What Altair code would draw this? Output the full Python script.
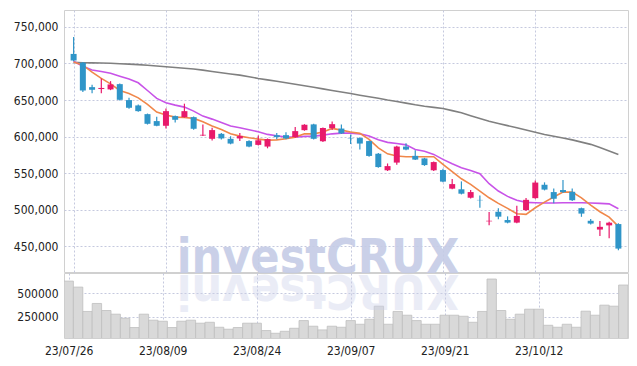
import altair as alt
import pandas as pd

dates = ["23/07/26", "23/07/27", "23/07/28", "23/07/31", "23/08/01", "23/08/02", "23/08/03", "23/08/04",
         "23/08/07", "23/08/08", "23/08/09", "23/08/10", "23/08/11", "23/08/14", "23/08/16", "23/08/17",
         "23/08/18", "23/08/21", "23/08/22", "23/08/23", "23/08/24", "23/08/25", "23/08/28", "23/08/29",
         "23/08/30", "23/08/31", "23/09/01", "23/09/04", "23/09/05", "23/09/06", "23/09/07", "23/09/08",
         "23/09/11", "23/09/12", "23/09/13", "23/09/14", "23/09/15", "23/09/18", "23/09/19", "23/09/20",
         "23/09/21", "23/09/22", "23/09/25", "23/09/26", "23/09/27", "23/10/04", "23/10/05", "23/10/06",
         "23/10/10", "23/10/11", "23/10/12", "23/10/13", "23/10/16", "23/10/17", "23/10/18", "23/10/19",
         "23/10/20", "23/10/23", "23/10/24", "23/10/25"]

opens = [713000, 701000, 667600, 665000, 664500, 671700, 649900, 642600, 630700, 621200,
         614800, 628000, 626600, 626600, 601500, 597000, 603800, 597000, 597500, 593900,
         588700, 586400, 602000, 602000, 599300, 608800, 616700, 593800, 611600, 611000,
         597500, 598000, 593900, 576600, 554000, 564500, 586400, 573700, 570200, 554000,
         554300, 528900, 528000, 516500, 513500, 484200, 497300, 486000, 482500, 499500,
         515900, 534200, 524200, 527000, 524600, 502200, 485000, 473000, 478700, 480500]
closes = [704000, 663000, 664000, 666500, 671300, 650300, 639400, 634800, 617500, 614800,
          634800, 623000, 634800, 610700, 602500, 608900, 597500, 590500, 600700, 586400,
          595000, 596600, 599300, 597500, 607500, 616200, 597000, 611600, 617000, 604400,
          597000, 590500, 573600, 558400, 559700, 586400, 582300, 568600, 561100, 565200,
          538500, 535100, 522000, 524200, 513000, 485000, 490600, 482500, 491600, 513600,
          537200, 527600, 515100, 524200, 513100, 494800, 481200, 476700, 482400, 447000]
highs = [736000, 702000, 671000, 679500, 675800, 672500, 653000, 644000, 631500, 627000,
         638500, 629000, 645000, 627500, 616700, 612000, 605000, 600500, 604800, 595000,
         601600, 597500, 605000, 606000, 613000, 617000, 617500, 612500, 620800, 616700,
         603000, 599000, 594500, 577500, 563300, 587500, 591000, 581500, 571000, 566000,
         556000, 542000, 538800, 527000, 519700, 496900, 502000, 491000, 505500, 516000,
         540000, 537500, 529000, 540600, 529000, 503000, 487500, 484600, 483500, 481500]
lows = [703000, 661000, 659400, 659400, 663500, 649500, 638000, 633900, 616500, 614000,
        611200, 619400, 626000, 609500, 601000, 594800, 596000, 589500, 593900, 585500,
        588000, 584000, 596500, 596500, 598500, 608000, 596000, 592500, 609000, 603500,
        590000, 582500, 572500, 557500, 553000, 561500, 581500, 568000, 560000, 553000,
        537500, 528000, 521000, 515500, 502800, 479000, 487000, 481500, 481500, 498500,
        515000, 526500, 509000, 523000, 512000, 490400, 480000, 464200, 461000, 444700]
volumes = [631000, 567000, 308000, 393000, 318000, 279000, 236000, 137000, 279000, 215000,
           204000, 137000, 204000, 215000, 183000, 193000, 140000, 119000, 137000, 183000,
           183000, 105000, 76000, 97000, 129000, 211000, 151000, 112000, 151000, 140000,
           211000, 172000, 225000, 364000, 172000, 308000, 268000, 211000, 172000, 172000,
           268000, 268000, 257000, 193000, 308000, 653000, 318000, 225000, 279000, 332000,
           332000, 161000, 140000, 172000, 140000, 311000, 268000, 375000, 364000, 589000]
ma_short = [701800, 697700, 688000, 679500, 672000, 663000, 659000, 653000, 644000, 633500,
            629400, 626600, 626200, 624900, 620200, 614400, 609800, 603800, 600700, 598400,
            596600, 595200, 595600, 597000, 599300, 603800, 603800, 606200, 611200, 608900,
            606200, 604400, 596200, 584700, 576500, 573400, 572400, 572400, 572400, 572500,
            562000, 552000, 542400, 534700, 525600, 516400, 508800, 502000, 494600, 493700,
            502800, 510500, 517400, 524200, 524200, 516400, 506400, 497300, 490000, 477300]
ma_mid = [703000, 696000, 691000, 689000, 686700, 682600, 678600, 673500, 663000, 652200,
          646200, 643000, 640300, 634800, 628000, 623900, 619400, 614400, 612000, 609300,
          606600, 603000, 601100, 599300, 599300, 600300, 600700, 602000, 603800, 604800,
          604800, 603800, 600700, 595600, 592100, 590500, 588700, 582500, 580000, 575700,
          568900, 562800, 557400, 553800, 549200, 535600, 525600, 518300, 512900, 510100,
          509700, 509200, 509200, 509700, 509700, 509700, 509200, 508800, 508100, 501400]
ma_long = [701500, 701000, 700800, 700500, 700200, 699600, 699000, 698300, 697500, 696500,
           695400, 694500, 693500, 692400, 690800, 689000, 687300, 685600, 684000, 681800,
           679500, 677500, 675600, 673600, 671500, 669500, 667400, 665200, 663000, 661000,
           658800, 656500, 654400, 652300, 650000, 648000, 645800, 643500, 641500, 640000,
           638500, 635500, 632500, 628500, 624800, 621000, 618000, 615000, 612000, 609000,
           606000, 603000, 600500, 598000, 595500, 592500, 589400, 585000, 580500, 575700]

price_ticks = [450000, 500000, 550000, 600000, 650000, 700000, 750000]
volume_ticks = [250000, 500000]
date_ticks = [0, 10, 20, 30, 40, 50]

UP = "#e8196b"
DOWN = "#2f95c8"

df = pd.DataFrame({
    "idx": list(range(len(dates))), "date": dates,
    "open": opens, "close": closes, "high": highs, "low": lows,
    "volume": volumes, "ma_s": ma_short, "ma_m": ma_mid, "ma_l": ma_long,
})

W = 564
label_expr = "[" + ",".join("'" + d + "'" for d in dates) + "][datum.value]"
xscale = alt.Scale(domain=[-0.5, len(dates) - 0.5], nice=False, zero=False)
x_price = alt.X("idx:Q", scale=xscale,
                axis=alt.Axis(values=date_ticks, labels=False, ticks=False, domain=False,
                              grid=True, title=None, minExtent=0, maxExtent=0, labelPadding=0))
yscale = alt.Scale(domain=[415000, 773000], nice=False, zero=False)
yaxis = alt.Axis(values=price_ticks, format=",.0f", title=None, grid=True,
                 minExtent=58, maxExtent=58)

base = alt.Chart(df)
candle_color = alt.condition("datum.close >= datum.open", alt.value(UP), alt.value(DOWN))

watermark = alt.Chart(pd.DataFrame({"t": ["investCRUX"]})).mark_text(
    font="DejaVu Sans Condensed", fontWeight="bold", fontSize=48, color="#c5cce6",
    opacity=0.9, align="center", baseline="alphabetic"
).encode(text="t:N", x=alt.value(254), y=alt.value(263))

line_l = base.mark_line(color="#808080", strokeWidth=1.6).encode(
    x=x_price, y=alt.Y("ma_l:Q", scale=yscale, axis=yaxis))
line_m = base.mark_line(color="#c853e8", strokeWidth=1.6).encode(
    x=x_price, y=alt.Y("ma_m:Q", scale=yscale, axis=yaxis))
line_s = base.mark_line(color="#f0874a", strokeWidth=1.6).encode(
    x=x_price, y=alt.Y("ma_s:Q", scale=yscale, axis=yaxis))
wicks = base.mark_rule(strokeWidth=1.2).encode(
    x=x_price, y=alt.Y("low:Q", scale=yscale, axis=yaxis), y2="high:Q", color=candle_color)
bodies = base.mark_bar(size=6).encode(
    x=x_price, y=alt.Y("open:Q", scale=yscale, axis=yaxis), y2="close:Q", color=candle_color)

price = alt.layer(watermark, line_l, line_m, line_s, wicks, bodies).properties(width=W, height=262)

x_vol = alt.X("x0:Q", scale=xscale,
              axis=alt.Axis(values=date_ticks, labelExpr=label_expr, ticks=False, domain=False,
                            grid=True, title=None, labelPadding=7))
vbars = base.transform_calculate(x0="datum.idx - 0.5", x1="datum.idx + 0.5").mark_bar(
    fill="#d9d9d9", stroke="#bfbfbf", strokeWidth=0.8, clip=True
).encode(
    x=x_vol, x2="x1:Q",
    y=alt.Y("volume:Q", scale=alt.Scale(domain=[25600, 717000], nice=False, zero=False),
            axis=alt.Axis(values=volume_ticks, format="d", title=None, grid=True,
                          minExtent=58, maxExtent=58)),
    y2=alt.datum(0),
)
reflection = alt.Chart(pd.DataFrame({"t": ["investCRUX"[::-1]]})).mark_text(
    font="DejaVu Sans Condensed", fontWeight="bold", fontSize=48, color="#cdd2ea",
    opacity=0.4, align="center", baseline="alphabetic", angle=180, clip=True
).encode(text="t:N", x=alt.value(254), y=alt.value(2))

volume = alt.layer(vbars, reflection).properties(width=W, height=65)

chart = alt.vconcat(price, volume, spacing=1, bounds="flush").properties(
    padding={"left": 5, "top": 9, "right": 5, "bottom": 5}
).configure_view(stroke="#d0d0d0", strokeWidth=1).configure_axis(
    labelFont="DejaVu Sans Condensed", labelFontSize=12, labelColor="#222222",
    gridColor="#c5c9de", gridDash=[2, 2], gridWidth=1, ticks=False, domain=False, labelPadding=6
)

chart.save("out.html", embed_options={"renderer": "svg", "actions": False})
